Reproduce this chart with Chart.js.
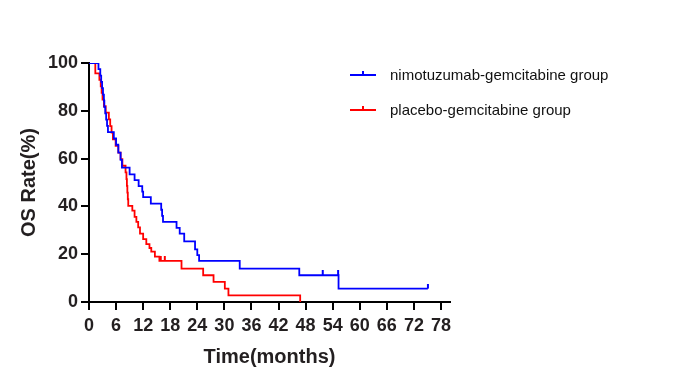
<!DOCTYPE html>
<html>
<head>
<meta charset="utf-8">
<script src="https://cdn.jsdelivr.net/npm/chart.js@4.4.0/dist/chart.umd.min.js"></script>
<style>body{margin:0;background:#fff}</style>
</head>
<body>
<canvas id="myGraphic" width="693" height="386"></canvas>
<script>
// Datos (Kaplan-Meier, OS)
var xTicks = [0, 6, 12, 18, 24, 30, 36, 42, 48, 54, 60, 66, 72, 78];
var yTicks = [0, 20, 40, 60, 80, 100];

var nimoLabel = 'nimotuzumab-gemcitabine group';
var nimoTime = [0, 2.1, 2.5, 2.7, 2.9, 3.1, 3.3, 3.4, 3.6, 3.8, 4.0, 4.2, 5.5, 6.0, 6.5, 7.0, 7.3, 9.0, 10.1, 11.0, 11.8, 12.0, 13.7, 16.0, 16.2, 16.4, 19.4, 20.1, 21.1, 23.5, 24.0, 24.4, 33.4, 46.6, 55.3, 75.1];
var nimoRate = [100, 97.4, 94.7, 92.1, 89.5, 86.8, 84.2, 81.6, 78.9, 76.3, 73.7, 71.1, 68.4, 65.8, 62.5, 59.5, 56.2, 53.4, 51.0, 48.5, 46.2, 43.9, 41.2, 38.6, 36.0, 33.5, 31.0, 28.6, 25.4, 22.0, 19.6, 17.2, 14.0, 11.2, 5.6, 5.6];
var nimoCensor = [51.8, 55.2, 75.1];

var placeboLabel = 'placebo-gemcitabine group';
var placeboTime = [0, 1.4, 2.3, 2.6, 2.8, 3.0, 3.3, 3.7, 4.4, 4.7, 5.0, 5.3, 5.9, 6.5, 7.0, 7.4, 8.1, 8.3, 8.4, 8.5, 8.6, 8.7, 9.6, 10.1, 10.5, 10.9, 11.3, 12.0, 12.7, 13.4, 13.8, 14.6, 15.6, 20.5, 25.3, 27.6, 30.1, 30.9, 46.8];
var placeboRate = [100, 95.7, 93.0, 90.2, 87.5, 84.7, 81.9, 79.2, 76.4, 73.6, 70.9, 68.1, 65.3, 62.5, 59.8, 57.0, 54.2, 51.4, 48.6, 45.8, 43.0, 40.2, 38.2, 35.6, 33.5, 31.2, 28.6, 26.3, 24.2, 22.6, 21.1, 19.0, 17.2, 14.0, 11.2, 8.4, 5.6, 2.8, 0];
var placeboCensor = [15.9, 16.8];

var azul = 'rgb(0, 0, 255)';
var rojo = 'rgb(255, 0, 0)';
var texto = '#231f20';
var fuente = '"Liberation Sans", Arial, sans-serif';

// puntos de la curva
function puntos(t, r) {
    return t.map(function (v, i) { return { x: v, y: r[i] }; });
}

// valor de la curva en el tiempo t (para las marcas de censura)
function valorEn(t, r, x) {
    var v = r[0];
    for (var i = 0; i < t.length; i++) {
        if (t[i] <= x) v = r[i];
    }
    return v;
}

// marca de censura: rayita vertical hacia arriba
function marca(color) {
    var c = document.createElement('canvas');
    c.width = 4;
    c.height = 10;
    var g = c.getContext('2d');
    g.fillStyle = color;
    g.fillRect(1, 0, 2, 5);
    return c;
}

var leyenda = {
    id: 'leyenda',
    afterDraw: function (chart) {
        var c = chart.ctx;
        [[nimoLabel, azul, 75], [placeboLabel, rojo, 110]].forEach(function (item) {
            var y = item[2];
            c.save();
            c.strokeStyle = item[1];
            c.lineWidth = 2;
            c.beginPath();
            c.moveTo(350, y);
            c.lineTo(376, y);
            c.moveTo(363, y);
            c.lineTo(363, y - 4);
            c.stroke();
            c.fillStyle = '#111';
            c.font = '15px ' + fuente;
            c.textBaseline = 'middle';
            c.fillText(item[0], 390, y + 1);
            c.restore();
        });
    }
};

var myChart = new Chart('myGraphic', {
    type: 'line',
    data: {
        datasets: [{
            label: nimoLabel,
            data: puntos(nimoTime, nimoRate),
            borderColor: azul,
            borderWidth: 1.8,
            stepped: true,
            pointRadius: 0,
            fill: false
        }, {
            label: placeboLabel,
            data: puntos(placeboTime, placeboRate),
            borderColor: rojo,
            borderWidth: 1.8,
            stepped: true,
            pointRadius: 0,
            fill: false
        }, {
            label: 'censor-n',
            data: nimoCensor.map(function (x) { return { x: x, y: valorEn(nimoTime, nimoRate, x) }; }),
            showLine: false,
            pointStyle: marca(azul),
            pointRadius: 3
        }, {
            label: 'censor-p',
            data: placeboCensor.map(function (x) { return { x: x, y: valorEn(placeboTime, placeboRate, x) }; }),
            showLine: false,
            pointStyle: marca(rojo),
            pointRadius: 3
        }]
    },
    options: {
        responsive: false,
        animation: false,
        devicePixelRatio: 1,
        layout: { padding: { top: 63, right: 243, left: 0, bottom: 0 } },
        plugins: {
            legend: { display: false },
            tooltip: { enabled: false }
        },
        scales: {
            x: {
                type: 'linear',
                min: 0,
                max: 80,
                afterBuildTicks: function (axis) {
                    axis.ticks = xTicks.map(function (v) { return { value: v }; });
                },
                afterFit: function (axis) { axis.height = 84; },
                grid: { drawOnChartArea: false, drawTicks: true, tickLength: 8, color: '#000', lineWidth: 2 },
                border: { display: true, color: '#000', width: 2 },
                ticks: { color: texto, padding: 5, maxRotation: 0, autoSkip: false, font: { family: fuente, size: 18, weight: 'bold' } },
                title: {
                    display: true,
                    text: 'Time(months)',
                    color: texto,
                    padding: { top: 0, bottom: 17 },
                    font: { family: fuente, size: 20, weight: 'bold' }
                }
            },
            y: {
                min: 0,
                max: 100,
                afterBuildTicks: function (axis) {
                    axis.ticks = yTicks.map(function (v) { return { value: v }; });
                },
                afterFit: function (axis) { axis.width = 89; },
                grid: { drawOnChartArea: false, drawTicks: true, tickLength: 8, color: '#000', lineWidth: 2 },
                border: { display: true, color: '#000', width: 2 },
                ticks: { color: texto, padding: 3, font: { family: fuente, size: 18, weight: 'bold' } },
                title: {
                    display: true,
                    text: 'OS Rate(%)',
                    color: texto,
                    padding: { top: 17, bottom: 0 },
                    font: { family: fuente, size: 20, weight: 'bold' }
                }
            }
        }
    },
    plugins: [leyenda]
});
</script>
</body>
</html>
